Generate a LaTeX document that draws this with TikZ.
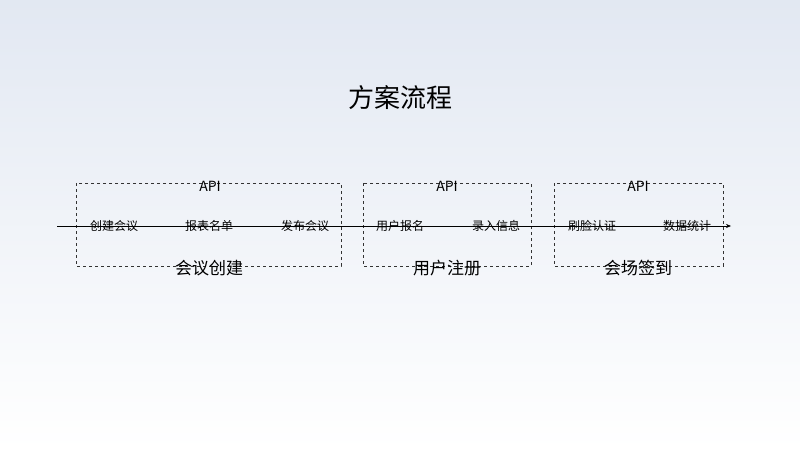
\documentclass[tikz,border=0pt]{standalone}
\usepackage{fontspec}
\setmainfont{Noto Sans CJK SC}
\usetikzlibrary{arrows.meta}
\begin{document}
\begin{tikzpicture}[x=1pt,y=-1pt,
  box/.style={draw=black!80,dashed,line width=0.7pt},
  item/.style={font=\fontsize{12}{14}\selectfont,fill=none,inner sep=0pt},
  api/.style={font=\fontsize{14}{16}\selectfont,inner sep=0pt},
  lab/.style={font=\fontsize{17}{20}\selectfont,inner sep=0pt}]
\shade[top color={rgb,255:red,226;green,232;blue,242},bottom color=white] (0,0) rectangle (800,450);
\useasboundingbox (0,0) rectangle (800,450);
\node[font=\fontsize{26}{30}\selectfont] (title) at (400,98) {方案流程};
\draw[box] (76,183) rectangle (341,266);
\draw[box] (363,183) rectangle (531,266);
\draw[box] (554,183) rectangle (723,266);
\coordinate (s) at (57,226);
\coordinate (e) at (731,226);
\draw[line width=0.6pt,-{Stealth[length=5pt,width=4pt]}] (s) -- (e);
\node[api] (a1) at (210,186) {API};
\node[api] (a2) at (447,186) {API};
\node[api] (a3) at (638,186) {API};
\node[item] (i1) at (114,226) {创建会议};
\node[item] (i2) at (209,226) {报表名单};
\node[item] (i3) at (305,226) {发布会议};
\node[item] (i4) at (400,226) {用户报名};
\node[item] (i5) at (496,226) {录入信息};
\node[item] (i6) at (592,226) {刷脸认证};
\node[item] (i7) at (687,226) {数据统计};
\node[lab] (l1) at (209,268) {会议创建};
\node[lab] (l2) at (447,268) {用户注册};
\node[lab] (l3) at (638,268) {会场签到};
\end{tikzpicture}
\end{document}
